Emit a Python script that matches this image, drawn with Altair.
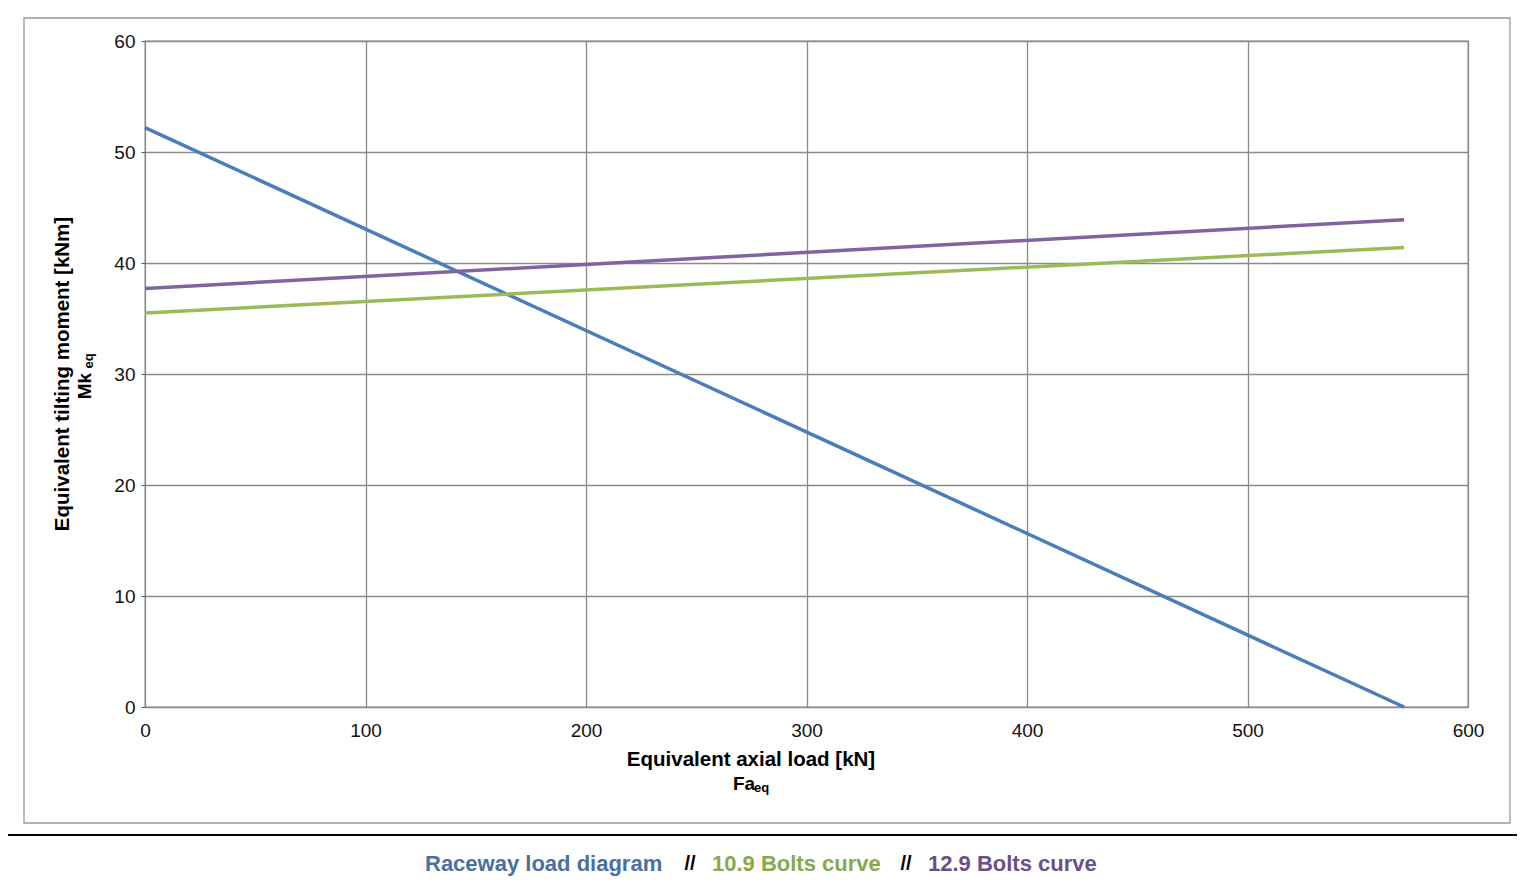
import altair as alt
import pandas as pd

fa = [0, 571]
raceway = [52.2, 0.0]
bolts109 = [35.5, 41.4]
bolts129 = [37.7, 43.9]
series = ["Raceway load diagram", "10.9 Bolts curve", "12.9 Bolts curve"]
colors = ["#4a7ebb", "#9bbb59", "#8064a2"]
x_ticks = [0, 100, 200, 300, 400, 500, 600]
y_ticks = [0, 10, 20, 30, 40, 50, 60]

rows = []
for name, vals in zip(series, [raceway, bolts109, bolts129]):
    for x, y in zip(fa, vals):
        rows.append({"x": x, "y": y, "s": name})
df = pd.DataFrame(rows)

FONT = "Liberation Sans"
lines = alt.Chart(df).mark_line(strokeWidth=3.5, clip=False).encode(
    x=alt.X("x:Q", scale=alt.Scale(domain=[0, 600]),
            axis=alt.Axis(values=x_ticks, title=None, grid=True, gridColor="#8a8a8a", gridWidth=1.3,
                          domain=False, ticks=False, labelFontSize=19, labelColor="#111", labelPadding=14,
                          labelFont=FONT, labelFlush=False)),
    y=alt.Y("y:Q", scale=alt.Scale(domain=[0, 60]),
            axis=alt.Axis(values=y_ticks, title=None, grid=True, gridColor="#8a8a8a", gridWidth=1.3,
                          domain=False, ticks=True, tickSize=4, tickColor="#555", labelFontSize=19,
                          labelColor="#111", labelPadding=6, labelFont=FONT, labelFlush=False)),
    color=alt.Color("s:N", scale=alt.Scale(domain=series, range=colors), legend=None),
)

one = pd.DataFrame({"a": [0]})
outer = alt.Chart(one).mark_rect(fill="white", fillOpacity=0, stroke="black", strokeWidth=2, clip=False).encode(
    x=alt.value(-144), x2=alt.value(1377), y=alt.value(-40), y2=alt.value(851))
inner = alt.Chart(one).mark_rect(fill="white", fillOpacity=0, stroke="#999", strokeWidth=1.3, clip=False).encode(
    x=alt.value(-121), x2=alt.value(1365), y=alt.value(-23), y2=alt.value(782))
sep = alt.Chart(one).mark_rule(stroke="black", strokeWidth=2, clip=False).encode(
    x=alt.value(-144), x2=alt.value(1377), y=alt.value(794))

def txt(s, x, y, size=19, color="black", align="center", angle=0):
    return alt.Chart(one).mark_text(text=s, fontSize=size, fontWeight="bold", font=FONT, color=color,
                                    align=align, baseline="middle", angle=angle).encode(
        x=alt.value(x), y=alt.value(y))

texts = [
    txt("Equivalent axial load [kN]", 606, 719, size=20.5),
    txt("Fa", 588, 743, align="left", size=19),
    txt("eq", 609, 747, align="left", size=13),
    txt("Equivalent tilting moment [kNm]", -82, 333, angle=270, size=20.5),
    txt("Mk", -60, 345, angle=270, size=19),
    txt("eq", -56, 320, angle=270, size=13),
    txt("Raceway load diagram", 280, 823, color="#4a6fa0", size=22, align="left"),
    txt("//", 545, 823, size=20),
    txt("10.9 Bolts curve", 567, 823, color="#86a94a", size=22, align="left"),
    txt("//", 761, 823, size=20),
    txt("12.9 Bolts curve", 783, 823, color="#6a4f8a", size=22, align="left"),
]

chart = alt.layer(outer, inner, sep, lines, *texts).properties(
    width=1323, height=666,
    autosize=alt.AutoSizeParams(type="none"),
    padding={"left": 137, "top": 33, "right": 49, "bottom": 170},
    background="white",
).configure_view(stroke="#8a8a8a", strokeWidth=1.3)

chart.save("out.html", embed_options={"renderer": "svg", "actions": False})
